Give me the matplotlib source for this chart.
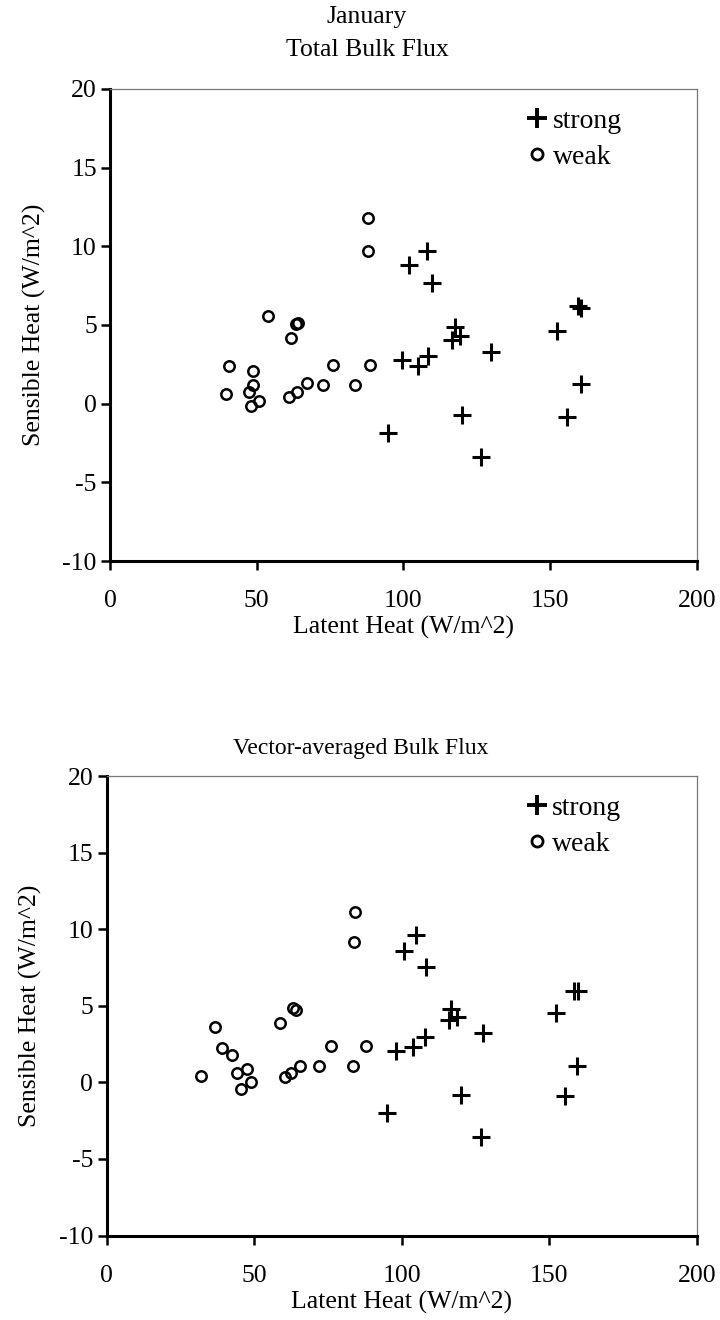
import matplotlib
matplotlib.use("Agg")
import matplotlib.pyplot as plt
from matplotlib.lines import Line2D

plt.rcParams['font.family'] = ['Liberation Serif', 'DejaVu Serif']
plt.rcParams['axes.unicode_minus'] = False

# ---------------- data ----------------
top_title = "January\nTotal Bulk Flux"
bottom_title = "Vector-averaged Bulk Flux"
x_label = "Latent Heat (W/m^2)"
y_label = "Sensible Heat (W/m^2)"
x_ticks = [0, 50, 100, 150, 200]
y_ticks = [-10, -5, 0, 5, 10, 15, 20]
legend_labels = ["strong", "weak"]

# Top panel: Total Bulk Flux
tot_strong_x = [108.1, 102.0, 109.9, 159.6, 160.4, 152.2, 117.5, 119.3, 116.4,
                130.0, 99.6, 108.5, 105.0, 160.4, 119.8, 155.6, 94.8, 126.6]
tot_strong_y = [9.7, 8.8, 7.7, 6.2, 6.1, 4.6, 4.85, 4.3, 4.05,
                3.3, 2.8, 3.05, 2.4, 1.25, -0.7, -0.85, -1.85, -3.4]
tot_weak_x = [87.8, 88.0, 53.7, 63.4, 64.0, 61.7, 40.4, 48.8, 75.9, 88.5,
              39.7, 48.8, 47.5, 50.8, 47.9, 60.9, 63.9, 67.2, 72.5, 83.5]
tot_weak_y = [11.8, 9.7, 5.6, 5.05, 5.15, 4.15, 2.4, 2.1, 2.45, 2.45,
              0.6, 1.2, 0.75, 0.15, -0.15, 0.45, 0.75, 1.3, 1.2, 1.2]

# Bottom panel: Vector-averaged Bulk Flux
vec_strong_x = [104.8, 100.7, 108.1, 158.3, 159.8, 152.1, 116.7, 118.8, 116.0,
                127.4, 107.9, 103.9, 97.9, 159.4, 120.0, 155.3, 95.1, 126.7]
vec_strong_y = [9.6, 8.6, 7.55, 6.0, 6.0, 4.5, 4.8, 4.25, 4.05,
                3.2, 2.95, 2.3, 2.05, 1.1, -0.8, -0.9, -2.0, -3.55]
vec_weak_x = [84.3, 83.9, 63.3, 64.1, 58.8, 36.6, 39.1, 42.4, 76.1, 87.8,
              31.9, 44.1, 47.7, 48.8, 45.5, 60.5, 62.4, 65.6, 72.1, 83.6]
vec_weak_y = [11.1, 9.2, 4.85, 4.75, 3.85, 3.6, 2.25, 1.8, 2.4, 2.4,
              0.4, 0.6, 0.9, 0.0, -0.45, 0.35, 0.6, 1.1, 1.1, 1.1]

# ---------------- figure ----------------
fig = plt.figure(figsize=(7.2, 13.2), dpi=100)

ax1 = fig.add_axes([0.1528, 0.575, 0.815, 0.3576])
ax2 = fig.add_axes([0.1480, 0.064, 0.820, 0.348])

FS = 18.5

plus_kw = dict(marker='+', linestyle='none', color='black', markersize=13, markeredgewidth=2.2)
circ_kw = dict(marker='o', linestyle='none', markerfacecolor='none', markeredgecolor='black',
               markersize=7.5, markeredgewidth=1.8)

panels = [
    (ax1, tot_strong_x, tot_strong_y, tot_weak_x, tot_weak_y, top_title, 0.438, 18.5, 24),
    (ax2, vec_strong_x, vec_strong_y, vec_weak_x, vec_weak_y, bottom_title, 0.43, 17, 16),
]

for ax, sx, sy, wx, wy, title, tx, tfs, tpad in panels:
    ax.plot(sx, sy, label=legend_labels[0], **plus_kw)
    ax.plot(wx, wy, label=legend_labels[1], **circ_kw)
    ax.set_xlim(0, 200)
    ax.set_ylim(-10, 20)
    ax.set_xticks(x_ticks)
    ax.set_yticks(y_ticks)
    ax.tick_params(direction='out', length=6.5, width=1.8, labelsize=FS, pad=3,
                   top=False, right=False)
    ax.tick_params(axis='x', pad=14.5)
    for s in ['left', 'bottom']:
        ax.spines[s].set_linewidth(2.2)
        ax.spines[s].set_color('black')
    for s in ['top', 'right']:
        ax.spines[s].set_linewidth(0.9)
        ax.spines[s].set_color('#777777')
    ax.set_xlabel(x_label, fontsize=FS, labelpad=3)
    ax.set_ylabel(y_label, fontsize=FS, labelpad=12)
    ax.set_title(title, fontsize=tfs, pad=tpad, linespacing=1.6, x=tx)
    handles = [Line2D([], [], marker='+', linestyle='none', color='black', markersize=14, markeredgewidth=2.8),
               Line2D([], [], marker='o', linestyle='none', markerfacecolor='none', markeredgecolor='black',
                      markersize=8, markeredgewidth=2.0)]
    ax.legend(handles, legend_labels, loc='upper right', bbox_to_anchor=(0.905, 1.0), frameon=False,
              fontsize=20, handlelength=0.7, handletextpad=0.2, labelspacing=0.38, borderpad=0.2)

fig.savefig("out.png", dpi=100, facecolor='white')
